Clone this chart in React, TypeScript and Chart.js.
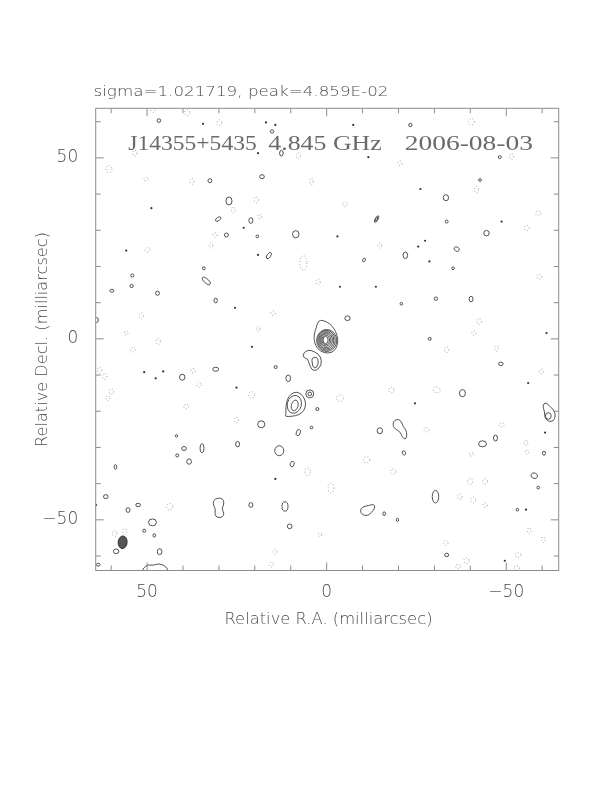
import { useEffect, useRef } from "react";
import { Chart, registerables } from "chart.js";
Chart.register(...registerables);

// ---- axis ranges (mas) ----
const xMax = 64.3; // left edge (R.A. increases to the left)
const xMin = -64.6;
const yMin = -64.0;
const yMax = 63.7;
const majorTicks = [50, 0, -50];
const minorTicks = [-60, -50, -40, -30, -20, -10, 0, 10, 20, 30, 40, 50, 60];

// ---- texts ----
const headerText = "sigma=1.021719, peak=4.859E-02";
const sourceText = "J14355+5435";
const freqText = "4.845 GHz";
const dateText = "2006-08-03";
const xTitle = "Relative R.A. (milliarcsec)";
const yTitle = "Relative Decl. (milliarcsec)";

// ---- core contours [x, y, a, b] ----
const coreLevels: number[][] = [
  [0.3, -0.3, 0.7, 1.0],
  [0.25, -0.3, 1.05, 1.35],
  [0.2, -0.3, 1.4, 1.7],
  [0.15, -0.35, 1.75, 2.05],
  [0.1, -0.4, 2.1, 2.4],
  [0.05, -0.4, 2.45, 2.75],
  [0.0, -0.45, 2.8, 3.05],
];

// ---- irregular positive contours (polygons of [x, y]) ----
const coreOuter: number[][] = [
  [2.4, 5.0], [1.0, 5.2], [-1.0, 4.1], [-2.1, 2.8], [-2.9, 1.1], [-3.2, -0.8], [-2.6, -2.8],
  [-1.3, -3.9], [0.7, -3.9], [2.6, -2.8], [3.5, -0.8], [3.5, 1.4], [2.9, 3.0],
];
const hookOuter: number[][] = [
  [6.5, -4.0], [5.2, -3.0], [3.3, -3.5], [1.6, -4.9], [1.4, -7.2], [2.8, -8.8], [4.2, -8.6],
  [4.9, -6.7], [5.3, -5.5], [6.5, -5.2],
];
const hookInner: number[][] = [
  [4.2, -5.3], [2.8, -4.9], [2.2, -6.3], [2.8, -8.1], [3.8, -7.9], [4.0, -6.7],
];
const knotOuter: number[][] = [
  [8.5, -14.6], [7.1, -15.2], [6.1, -16.6], [5.8, -18.2], [6.3, -19.9], [7.7, -21.0], [9.6, -21.4],
  [11.6, -21.5], [11.3, -20.7], [11.4, -19.1], [11.0, -16.6], [9.9, -15.2],
];
const peanut: number[][] = [
  [31.0, -44.2], [29.6, -43.9], [28.6, -44.6], [28.7, -46.0], [29.2, -47.0], [28.5, -48.3],
  [29.0, -49.3], [30.4, -49.4], [31.2, -48.6], [30.9, -47.2], [31.5, -46.0], [31.6, -44.9],
];
const bentBlob: number[][] = [
  [-18.5, -22.9], [-19.6, -22.1], [-20.8, -22.7], [-21.3, -24.3], [-22.1, -25.1], [-22.4, -26.8],
  [-21.9, -27.9], [-21.0, -27.1], [-20.5, -25.7], [-19.4, -25.1], [-18.5, -24.3],
];
const tailBlob: number[][] = [
  [-9.9, -46.4], [-11.6, -46.1], [-13.2, -45.6], [-13.5, -46.7], [-12.4, -48.1], [-11.3, -48.9],
  [-9.9, -48.6], [-9.3, -47.5],
];
const edgeDrop: number[][] = [
  [-60.4, -17.9], [-61.2, -17.7], [-62.3, -18.8], [-63.4, -19.9], [-63.7, -21.3], [-63.2, -22.7],
  [-61.8, -22.9], [-60.7, -21.8], [-60.7, -20.2], [-60.2, -18.8],
];
const bottomArc: number[][] = [
  [51.5, -64.6], [51.0, -63.2], [49.7, -62.4], [48.2, -62.6], [47.0, -62.1], [45.3, -62.5],
  [44.3, -63.5], [44.2, -64.6],
];
const shapes = [coreOuter, hookOuter, hookInner, knotOuter, peanut, bentBlob, tailBlob, edgeDrop, bottomArc];

// ---- elliptical positive contours [x, y, a, b, angleDeg] ----
const blobs: number[][] = [
  [46.7, 60.3, 0.5, 0.5, 0], [32.5, 43.7, 0.55, 0.55, 0], [27.2, 38.1, 0.85, 1.1, 0],
  [30.2, 33.1, 0.85, 0.45, -35], [27.9, 28.7, 0.55, 0.55, 0], [34.2, 19.5, 0.4, 0.4, 0],
  [33.5, 16.0, 1.4, 0.6, 40], [54.1, 17.5, 0.45, 0.45, 0], [54.3, 14.6, 0.45, 0.45, 0],
  [59.8, 13.3, 0.55, 0.4, 0], [47.1, 12.6, 0.55, 0.55, 0], [30.9, 10.6, 0.47, 0.65, 0],
  [64.1, 5.2, 0.55, 0.7, 0], [15.2, 57.3, 0.5, 0.45, 0], [12.6, 51.3, 0.5, 0.8, 0],
  [18.0, 44.8, 0.65, 0.55, 0], [21.1, 32.7, 0.55, 0.8, 0], [19.3, 28.3, 0.38, 0.38, 0],
  [8.6, 28.9, 0.9, 1.0, 0], [-13.9, 33.1, 0.4, 1.0, 30], [-13.9, 33.1, 0.2, 0.6, 30],
  [16.1, 23.0, 0.5, 1.0, 35], [-10.4, 21.8, 0.37, 0.55, 20], [-21.9, 23.1, 0.65, 0.9, 0],
  [-20.8, 9.7, 0.37, 0.37, 0], [-5.8, 5.7, 0.75, 0.65, 0], [-23.3, 59.1, 0.47, 0.47, 0],
  [-48.2, 50.2, 0.42, 0.42, 0], [-42.7, 43.9, 0.37, 0.37, 0], [-33.2, 39.0, 0.75, 0.83, 0],
  [-33.4, 32.4, 0.42, 0.42, 0], [-44.5, 29.2, 0.75, 0.75, 0], [-36.2, 24.8, 0.75, 0.6, 30],
  [-35.2, 19.5, 0.37, 0.37, 0], [-30.4, 11.1, 0.47, 0.47, 0], [-40.2, 11.0, 0.55, 0.75, 0],
  [40.2, -10.6, 0.75, 0.83, 0], [30.9, -8.4, 0.83, 0.55, 0], [41.8, -26.8, 0.33, 0.33, 0],
  [39.7, -30.3, 0.65, 0.55, 0], [34.7, -30.2, 0.55, 1.27, 0], [41.6, -32.2, 0.42, 0.42, 0],
  [38.3, -33.9, 0.65, 0.75, 0], [24.8, -29.1, 0.55, 0.75, 0], [58.8, -35.4, 0.37, 0.65, 0],
  [61.5, -43.6, 0.65, 0.55, 0], [55.3, -47.3, 0.55, 0.65, 0], [52.5, -45.9, 0.65, 0.47, 0],
  [48.5, -50.7, 1.1, 0.95, 0], [50.8, -53.0, 0.42, 0.42, 0], [48.0, -54.3, 0.37, 0.47, 0],
  [58.6, -58.7, 0.75, 0.65, 0], [46.5, -58.8, 0.65, 0.83, 0], [63.6, -62.4, 0.5, 0.4, 0],
  [14.2, -7.8, 0.42, 0.42, 0], [10.7, -10.9, 0.65, 0.92, 0], [4.7, -15.2, 1.1, 1.1, 0],
  [4.7, -15.2, 0.5, 0.5, 0], [9.0, -18.1, 1.95, 2.5, 15], [8.9, -18.4, 0.93, 1.5, 15],
  [2.6, -19.4, 0.42, 0.42, 0], [4.2, -24.5, 0.37, 0.37, 0], [18.2, -23.6, 1.0, 0.95, 0],
  [7.9, -25.9, 0.55, 0.9, 20], [-14.8, -25.4, 0.75, 0.83, 0], [-21.5, -31.5, 0.45, 0.6, -20],
  [13.2, -30.9, 1.25, 1.38, 0], [9.6, -34.6, 0.55, 0.75, 20], [11.6, -46.3, 0.83, 1.3, 0],
  [10.3, -51.8, 0.65, 0.65, 0], [21.1, -45.9, 0.55, 0.65, 0], [-16.0, -48.3, 0.37, 0.5, 0],
  [-19.7, -50.0, 0.33, 0.45, 0], [-28.7, 0.0, 0.42, 0.4, 0], [-48.5, -6.9, 0.65, 0.47, 0],
  [-37.8, -15.0, 0.83, 1.0, 0], [-61.7, -21.3, 0.8, 0.9, 0], [-43.4, -29.0, 1.1, 0.83, 0],
  [-47.0, -27.4, 0.55, 0.83, 0], [-60.5, -31.6, 0.42, 0.55, 0], [-57.8, -37.8, 0.92, 0.75, 20],
  [-58.9, -41.1, 0.37, 0.37, 0], [-30.3, -43.6, 0.9, 1.75, 0], [-53.1, -47.2, 0.37, 0.37, 0],
  [-33.4, -59.7, 0.55, 0.5, 0],
];

// ---- negative (dotted) contours [x, y, a, b] ----
const negBlobs: number[][] = [
  [29.9, 59.7, 0.7, 0.8], [48.3, 63.3, 0.6, 0.7], [38.8, 62.5, 0.7, 0.8], [60.6, 46.9, 0.8, 1.0],
  [53.4, 51.3, 0.6, 0.8], [50.3, 44.1, 0.6, 0.5], [37.5, 43.5, 0.6, 0.8], [26.0, 35.6, 0.5, 0.8],
  [31.1, 28.7, 0.6, 0.6], [32.2, 25.8, 0.5, 0.7], [49.9, 24.6, 0.7, 0.6], [51.6, 6.4, 0.6, 0.8],
  [55.8, 1.6, 0.5, 0.6], [7.9, 50.6, 0.6, 0.8], [-20.4, 48.5, 0.6, 0.6], [4.2, 43.5, 0.5, 0.9],
  [19.6, 38.4, 0.6, 0.8], [-5.1, 37.2, 0.6, 0.7], [18.6, 33.8, 0.5, 0.6], [-14.8, 25.8, 0.5, 0.7],
  [6.5, 21.0, 1.0, 2.0], [2.4, 15.7, 0.6, 0.8], [14.9, 7.1, 0.6, 0.6], [19.1, 2.7, 0.5, 0.7],
  [-40.3, 60.0, 0.8, 0.9], [-51.5, 50.4, 0.6, 0.8], [-41.7, 41.2, 0.6, 0.9], [-58.9, 34.7, 0.7, 0.7],
  [-55.7, 30.6, 0.7, 0.7], [-59.2, 17.2, 0.7, 0.7], [-42.5, 4.8, 0.6, 0.8], [-41.0, 1.6, 0.6, 0.6],
  [46.9, -0.7, 0.6, 0.9], [53.9, -3.0, 0.7, 0.6], [63.2, -8.6, 0.6, 0.8], [61.8, -10.4, 0.6, 0.8],
  [59.9, -14.6, 0.6, 0.8], [60.9, -16.4, 0.6, 0.7], [37.2, -8.8, 0.6, 0.6], [35.5, -12.7, 0.6, 0.7],
  [39.1, -18.7, 0.7, 0.6], [25.1, -22.4, 0.6, 0.8], [43.7, -46.4, 0.9, 0.9], [59.0, -53.7, 0.6, 0.9],
  [56.2, -53.2, 0.5, 0.8], [5.3, -36.7, 0.8, 1.0], [-1.2, -41.2, 0.8, 1.4], [-11.1, -33.4, 0.9, 0.8],
  [-18.5, -36.7, 0.8, 0.7], [-18.0, -14.1, 0.7, 0.8], [-3.7, -16.4, 1.0, 0.9], [20.9, -15.5, 0.9, 0.9],
  [15.4, -62.4, 0.6, 0.7], [14.4, -58.8, 0.5, 0.7], [1.9, -54.1, 0.5, 0.5], [-33.4, -3.0, 0.6, 0.8],
  [-47.3, -2.6, 0.5, 0.8], [-30.6, -14.1, 1.0, 0.8], [-59.8, -9.0, 0.6, 0.6], [-48.7, -23.8, 0.7, 0.6],
  [-27.8, -25.1, 0.7, 0.6], [-55.5, -28.8, 0.5, 0.8], [-55.8, -31.3, 0.5, 0.6], [-40.3, -31.9, 0.6, 0.5],
  [-39.9, -39.4, 0.7, 0.9], [-44.1, -39.4, 0.7, 0.8], [-37.1, -43.6, 0.6, 0.8], [-40.8, -44.5, 0.7, 0.8],
  [-44.1, -45.9, 0.6, 0.6], [-56.4, -53.0, 0.5, 0.8], [-60.3, -55.5, 0.5, 0.8], [-33.2, -56.4, 0.6, 0.7],
  [-38.9, -61.3, 0.7, 0.8], [-36.6, -62.9, 0.7, 0.6], [-53.3, -59.7, 0.8, 0.7], [-52.9, -63.3, 0.8, 0.6],
];

// ---- single-pixel features ----
const dotX = [34.4, 16.9, 14.3, 19.1, -7.4, -11.6, 48.8, 55.8, 23.1, -3.0, 19.1, -13.7, -3.7, 25.5,
  -26.1, -48.7, -27.4, -25.5, -28.6, -61.2, 50.8, 45.5, 47.6, 25.1, 20.8, 14.3, -56.1, -24.6, -60.8,
  -55.5, -49.6, 64.2];
const dotY = [59.4, 59.8, 59.1, 51.3, 59.1, 50.2, 36.1, 24.4, 30.7, 28.3, 23.2, 14.4, 14.4, 8.6,
  41.4, 32.4, 27.1, 25.5, 21.4, 1.6, -9.2, -9.0, -10.9, -13.5, -2.2, -38.7, -12.2, -17.8, -25.9,
  -47.2, -61.3, -45.9];

// ---- restoring beam [x, y, a, b, angleDeg] ----
const beam = [56.8, -56.2, 1.25, 1.75, 5];

const FONT_SANS = "'DejaVu Sans', 'Liberation Sans', sans-serif";
const FONT_SERIF = "'Liberation Serif', 'DejaVu Serif', serif";

// draw text stretched horizontally to a target width (wide stroke-font look)
function fitText(ctx: CanvasRenderingContext2D, text: string, x: number, y: number, width: number) {
  const w = ctx.measureText(text).width;
  const sx = width / w;
  ctx.save();
  ctx.translate(x, y);
  ctx.scale(sx, 1);
  ctx.fillText(text, 0, 0);
  ctx.restore();
}

function smoothClosed(ctx: CanvasRenderingContext2D, pts: number[][]) {
  const n = pts.length;
  const mid = (i: number) => {
    const a = pts[i % n], b = pts[(i + 1) % n];
    return [(a[0] + b[0]) / 2, (a[1] + b[1]) / 2];
  };
  const m0 = mid(0);
  ctx.moveTo(m0[0], m0[1]);
  for (let i = 1; i <= n; i++) {
    const p = pts[i % n];
    const m = mid(i);
    ctx.quadraticCurveTo(p[0], p[1], m[0], m[1]);
  }
  ctx.closePath();
}

const mapPlugin = {
  id: "radioMap",
  afterDatasetsDraw(chart: any) {
    const { ctx, chartArea: ca, scales } = chart;
    const xs = scales.x, ys = scales.y;
    const px = (v: number) => xs.getPixelForValue(v);
    const py = (v: number) => ys.getPixelForValue(v);
    const ell = (e: number[]) => {
      const cx = px(e[0]), cy = py(e[1]);
      const rx = Math.abs(px(e[0] + e[2]) - cx);
      const ry = Math.abs(py(e[1] + e[3]) - cy);
      ctx.beginPath();
      ctx.ellipse(cx, cy, rx, ry, ((e[4] || 0) * Math.PI) / 180, 0, Math.PI * 2);
    };
    ctx.save();
    ctx.beginPath();
    ctx.rect(ca.left, ca.top, ca.right - ca.left, ca.bottom - ca.top);
    ctx.clip();

    // negative contours
    ctx.strokeStyle = "#8a8a8a";
    ctx.lineWidth = 0.8;
    ctx.setLineDash([1, 2]);
    negBlobs.forEach((e) => { ell(e); ctx.stroke(); });
    ctx.setLineDash([]);

    // positive contours
    ctx.strokeStyle = "#333333";
    ctx.lineWidth = 0.85;
    coreLevels.forEach((e) => { ell(e); ctx.stroke(); });
    blobs.forEach((e) => { ell(e); ctx.stroke(); });
    shapes.forEach((s) => {
      ctx.beginPath();
      smoothClosed(ctx, s.map((p) => [px(p[0]), py(p[1])]));
      ctx.stroke();
    });

    // beam
    ell(beam);
    ctx.fillStyle = "#555555";
    ctx.fill();
    ctx.strokeStyle = "#222";
    ctx.stroke();
    ctx.restore();

    // frame + inward ticks
    ctx.save();
    ctx.strokeStyle = "#8c8c8c";
    ctx.lineWidth = 1;
    ctx.strokeRect(ca.left, ca.top, ca.right - ca.left, ca.bottom - ca.top);
    ctx.beginPath();
    minorTicks.forEach((v) => {
      const len = majorTicks.includes(v) ? 8 : 5;
      const x = px(v);
      ctx.moveTo(x, ca.bottom); ctx.lineTo(x, ca.bottom - len);
      ctx.moveTo(x, ca.top); ctx.lineTo(x, ca.top + len);
      const y = py(v);
      ctx.moveTo(ca.left, y); ctx.lineTo(ca.left + len, y);
      ctx.moveTo(ca.right, y); ctx.lineTo(ca.right - len, y);
    });
    ctx.stroke();
    ctx.restore();

    // texts
    ctx.save();
    ctx.fillStyle = "#4a4a4a";
    ctx.textAlign = "left";
    ctx.textBaseline = "alphabetic";
    ctx.font = `200 14.5px ${FONT_SANS}`;
    fitText(ctx, headerText, 93.5, 95.5, 295);
    ctx.fillStyle = "#6a6a6a";
    ctx.font = `20px ${FONT_SERIF}`;
    fitText(ctx, sourceText, 128.3, 149.5, 128.4);
    fitText(ctx, freqText, 268.3, 149.5, 113.4);
    fitText(ctx, dateText, 404.7, 149.5, 128.3);
    ctx.fillStyle = "#4a4a4a";
    ctx.font = `200 15px ${FONT_SANS}`;
    fitText(ctx, xTitle, 224.5, 623.5, 208);
    ctx.translate(46.5, 339.5);
    ctx.rotate(-Math.PI / 2);
    fitText(ctx, yTitle, -107.5, 0, 215);
    ctx.restore();
  },
};

function App() {
  const ref = useRef<HTMLCanvasElement | null>(null);
  useEffect(() => {
    if (!ref.current) return;
    const tickFont = { family: FONT_SANS, size: 17, weight: "200" as any };
    const label = (v: any) => (Number(v) < 0 ? "\u2212" + Math.abs(Number(v)) : String(v));
    const chart = new Chart(ref.current, {
      type: "scatter",
      data: {
        datasets: [
          {
            data: dotX.map((x, i) => ({ x, y: dotY[i] })),
            pointRadius: 1.1,
            pointBackgroundColor: "#333",
            pointBorderWidth: 0,
          },
        ],
      },
      options: {
        animation: false,
        responsive: false,
        devicePixelRatio: 1,
        layout: { padding: { left: 0, top: 108.3, right: 53.3, bottom: 0 } },
        plugins: { legend: { display: false }, tooltip: { enabled: false } },
        events: [],
        scales: {
          x: {
            type: "linear",
            reverse: true,
            min: xMin,
            max: xMax,
            grid: { display: false },
            border: { display: false },
            afterBuildTicks: (s: any) => { s.ticks = majorTicks.map((v) => ({ value: v })); },
            afterFit: (s: any) => { s.height = 792 - 570.5; },
            ticks: { color: "#4a4a4a", font: tickFont, padding: 4, maxRotation: 0, callback: label },
          },
          y: {
            type: "linear",
            min: yMin,
            max: yMax,
            grid: { display: false },
            border: { display: false },
            afterBuildTicks: (s: any) => { s.ticks = majorTicks.map((v) => ({ value: v })); },
            afterFit: (s: any) => { s.width = 95.7; },
            ticks: { color: "#4a4a4a", font: tickFont, padding: 9.5, callback: label },
          },
        },
      },
      plugins: [mapPlugin],
    });
    return () => chart.destroy();
  }, []);
  return (
    <div style={{ position: "absolute", left: 0, top: 0, width: 612, height: 792, background: "#fff" }}>
      <canvas ref={ref} width={612} height={792} style={{ width: 612, height: 792 }} />
    </div>
  );
}

export default App;
